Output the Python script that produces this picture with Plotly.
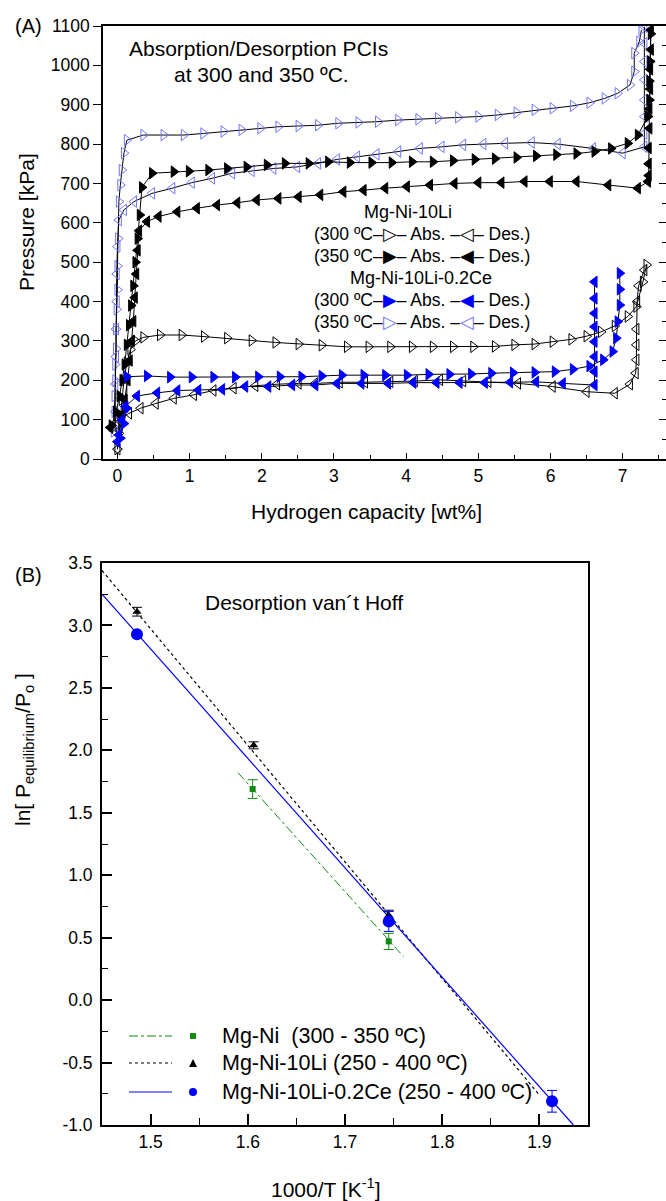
import plotly.graph_objects as go

W, H = 666, 1201
FONT = "Liberation Sans, Arial, sans-serif"

# ---------------- Panel A data (Hydrogen capacity [wt%], Pressure [kPa]) ----------------
li300_abs_x = [0.0, 0.02, 0.04, 0.06, 0.09, 0.13, 0.18, 0.25, 0.36, 0.59, 0.89, 1.2, 1.52, 1.86, 2.19,
               2.51, 2.83, 3.18, 3.48, 3.78, 4.08, 4.37, 4.65, 4.93, 5.23, 5.5, 5.78, 6.03, 6.29, 6.5,
               6.7, 6.89, 7.07, 7.19, 7.28, 7.33]
li300_abs_y = [25, 65, 110, 150, 200, 245, 278, 300, 309, 315, 315, 311, 307, 301, 296,
               292, 289, 285, 285, 285, 285, 285, 285, 285, 286, 290, 292, 298, 304, 312,
               323, 338, 362, 387, 450, 493]

li300_des_x = [7.3, 7.22, 7.2, 7.19, 7.19, 7.19, 7.18, 7.1, 6.89, 6.5, 6.03, 5.55, 5.14, 4.79, 4.47,
               4.12, 3.78, 3.43, 3.08, 2.74, 2.51, 2.21, 1.91, 1.61, 1.33, 1.06, 0.78, 0.53, 0.32,
               0.16, 0.02, 0.0]
li300_des_y = [480, 440, 400, 330, 290, 252, 218, 190, 167, 171, 184, 192, 196, 198, 201,
               198, 196, 195, 195, 192, 192, 190, 186, 180, 174, 163, 154, 141, 129,
               116, 99, 25]

li350_abs_x = [-0.08, -0.02, 0.03, 0.07, 0.1, 0.13, 0.16, 0.19, 0.22, 0.25, 0.28, 0.31, 0.34, 0.48,
               0.78, 0.99, 1.26, 1.52, 1.79, 2.07, 2.32, 2.65, 2.92, 3.22, 3.52, 3.8, 4.08, 4.37,
               4.65, 4.95, 5.23, 5.53, 5.8, 6.08, 6.36, 6.61, 6.84, 7.07, 7.21, 7.35, 7.37, 7.37,
               7.38, 7.39]
li350_abs_y = [85, 120, 160, 200, 240, 290, 340, 390, 440, 500, 560, 620, 690, 726,
               730, 731, 734, 738, 742, 747, 751, 751, 755, 753, 753, 753, 755, 755,
               758, 761, 763, 766, 770, 773, 776, 781, 789, 802, 823, 870, 912, 960,
               1010, 1080]

li350_des_x = [7.39, 7.39, 7.38, 7.38, 7.37, 7.37, 7.36, 7.36, 7.36, 7.35, 7.21, 6.8, 6.36, 5.99,
               5.64, 5.32, 5.0, 4.67, 4.33, 4.01, 3.71, 3.41, 3.13, 2.81, 2.51, 2.23, 1.93, 1.66,
               1.38, 1.1, 0.83, 0.57, 0.41, 0.3, 0.28, 0.26, 0.24, 0.22, 0.2, 0.17, 0.14, 0.1,
               0.05, -0.1]
li350_des_y = [1090, 1040, 990, 940, 890, 840, 790, 750, 720, 705, 688, 696, 705, 705,
               705, 702, 702, 700, 696, 692, 688, 683, 679, 671, 666, 662, 658, 651,
               645, 637, 628, 616, 603, 580, 530, 470, 410, 350, 300, 250, 200, 150,
               110, 80]

ce300_abs_x = [0.04, 0.09, 0.13, 0.13, 0.41, 0.73, 1.03, 1.33, 1.63, 1.95, 2.25, 2.55, 2.83, 3.11,
               3.41, 3.71, 4.01, 4.31, 4.6, 4.9, 5.18, 5.48, 5.78, 6.06, 6.31, 6.54, 6.73, 6.86,
               6.91, 6.93, 6.96, 6.96, 6.96]
ce300_abs_y = [53, 90, 129, 209, 211, 208, 208, 208, 208, 209, 209, 209, 211, 213,
               213, 213, 213, 215, 215, 216, 218, 219, 220, 222, 228, 236, 252, 273,
               307, 349, 391, 431, 472]

ce300_des_x = [6.61, 6.61, 6.61, 6.61, 6.61, 6.61, 6.61, 6.61, 6.17, 5.8, 5.44, 5.09, 4.74, 4.42,
               4.1, 3.75, 3.38, 3.04, 2.74, 2.42, 2.09, 1.77, 1.45, 1.12, 0.83, 0.55, 0.27, 0.11,
               0.06, 0.02, 0.0]
ce300_des_y = [450, 408, 370, 336, 298, 260, 222, 188, 192, 196, 195, 194, 194, 194,
               194, 192, 192, 192, 188, 188, 184, 184, 177, 175, 174, 168, 160, 133,
               99, 61, 44]

ce350_abs_x = [-0.05, -0.04, -0.04, -0.03, -0.03, -0.02, -0.02, -0.01, 0.0, 0.0, 0.01, 0.02, 0.04,
               0.06, 0.09, 0.13, 0.36, 0.64, 0.92, 1.19, 1.47, 1.72, 1.98, 2.23, 2.51, 2.78, 3.06,
               3.34, 3.61, 3.89, 4.17, 4.44, 4.72, 5.0, 5.27, 5.53, 5.78, 6.03, 6.31, 6.54, 6.75,
               6.93, 7.1, 7.16, 7.16, 7.23, 7.26]
ce350_abs_y = [70, 120, 160, 200, 240, 280, 330, 380, 430, 490, 560, 654, 696,
               734, 777, 810, 823, 823, 823, 827, 832, 836, 840, 844, 846, 848, 853,
               855, 857, 861, 863, 866, 868, 870, 874, 880, 887, 891, 897, 905, 916,
               929, 950, 984, 1031, 1060, 1090]

ce350_des_x = [7.3, 7.3, 7.3, 7.3, 7.3, 7.3, 7.3, 7.3, 7.0, 6.59, 6.1, 5.74, 5.37, 5.07, 4.79,
               4.49, 4.19, 3.89, 3.59, 3.32, 3.04, 2.78, 2.49, 2.16, 1.86, 1.59, 1.31, 1.03, 0.76,
               0.48, 0.23, 0.09, 0.02, 0.0, -0.01, -0.01, -0.02, -0.02, -0.03, -0.03, -0.03]
ce350_des_y = [1098, 1056, 1010, 963, 912, 870, 827, 793, 777, 789, 800, 804, 802, 800, 798,
               793, 789, 781, 774, 768, 761, 751, 742, 738, 732, 726, 713, 702, 688,
               675, 654, 633, 607, 540, 470, 400, 330, 260, 190, 120, 69]

# ---------------- Panel B data (1000/T, ln[Peq/Po]) ----------------
mgni_x = [1.605, 1.745]
mgni_y = [1.69, 0.47]
mgni_err = [0.075, 0.065]
mgni_fit_x = [1.59, 1.76]
mgni_fit_y = [1.82, 0.35]

li_x = [1.486, 1.606, 1.745]
li_y = [3.11, 2.04, 0.68]
li_err = [0.035, 0.028, 0.04]
li_fit_x = [1.45, 1.90]
li_fit_y = [3.44, -0.76]

ce_x = [1.486, 1.745, 1.913]
ce_y = [2.93, 0.63, -0.81]
ce_err = [0.02, 0.08, 0.087]
ce_fit_x = [1.45, 1.935]
ce_fit_y = [3.25, -1.0]

y2_tick_vals = [-1.0, -0.5, 0.0, 0.5, 1.0, 1.5, 2.0, 2.5, 3.0, 3.5]
y2_tick_text = ["-1.0", "-0.5", "0.0", "0.5", "1.0", "1.5", "2.0", "2.5", "3.0", "3.5"]

BLUE = "#0000ff"
LBLUE = "#7474ff"
GREEN = "#128a12"


def fx(px):
    return px / W


def fy(py):
    return 1 - py / H


fig = go.Figure()


def pci(x, y, symbol, color):
    fig.add_trace(go.Scatter(
        x=x, y=y, mode="lines+markers", xaxis="x", yaxis="y",
        line=dict(color="black", width=1),
        marker=dict(symbol=symbol, size=10, color=color, line=dict(color=color, width=1)),
        showlegend=False, hoverinfo="skip"))


pci(li300_abs_x, li300_abs_y, "triangle-right-open", "black")
pci(li300_des_x, li300_des_y, "triangle-left-open", "black")
pci(ce350_abs_x, ce350_abs_y, "triangle-right-open", LBLUE)
pci(ce350_des_x, ce350_des_y, "triangle-left-open", LBLUE)
pci(li350_abs_x, li350_abs_y, "triangle-right", "black")
pci(li350_des_x, li350_des_y, "triangle-left", "black")
pci(ce300_abs_x, ce300_abs_y, "triangle-right", BLUE)
pci(ce300_des_x, ce300_des_y, "triangle-left", BLUE)

# empty trace to materialise the right-hand tick axis of panel A
fig.add_trace(go.Scatter(x=[], y=[], xaxis="x", yaxis="y3", showlegend=False, hoverinfo="skip"))

# panel B fits
fig.add_trace(go.Scatter(x=mgni_fit_x, y=mgni_fit_y, mode="lines", xaxis="x2", yaxis="y2",
                         line=dict(color=GREEN, width=1, dash="dashdot"), showlegend=False))
fig.add_trace(go.Scatter(x=li_fit_x, y=li_fit_y, mode="lines", xaxis="x2", yaxis="y2",
                         line=dict(color="black", width=1.2, dash="dot"), showlegend=False))
fig.add_trace(go.Scatter(x=ce_fit_x, y=ce_fit_y, mode="lines", xaxis="x2", yaxis="y2",
                         line=dict(color=BLUE, width=1.2), showlegend=False))

# panel B points
fig.add_trace(go.Scatter(x=mgni_x, y=mgni_y, mode="markers", xaxis="x2", yaxis="y2",
                         marker=dict(symbol="square", size=6, color=GREEN),
                         error_y=dict(type="data", array=mgni_err, color=GREEN, thickness=1, width=5),
                         showlegend=False))
fig.add_trace(go.Scatter(x=li_x, y=li_y, mode="markers", xaxis="x2", yaxis="y2",
                         marker=dict(symbol="triangle-up", size=8, color="black"),
                         error_y=dict(type="data", array=li_err, color="black", thickness=1, width=5),
                         showlegend=False))
fig.add_trace(go.Scatter(x=ce_x, y=ce_y, mode="markers", xaxis="x2", yaxis="y2",
                         marker=dict(symbol="circle", size=12, color=BLUE),
                         error_y=dict(type="data", array=ce_err, color=BLUE, thickness=1, width=5),
                         showlegend=False))

tickfont = dict(family=FONT, size=17.5, color="black")

fig.update_layout(
    width=W, height=H,
    margin=dict(l=0, r=0, t=0, b=0),
    paper_bgcolor="white", plot_bgcolor="white",
    font=dict(family=FONT, color="black"),
    showlegend=False,
    xaxis=dict(domain=[fx(103), 1.0], range=[-0.2, 7.6], anchor="y",
               showline=True, linecolor="black", linewidth=1.5, mirror=True,
               ticks="inside", ticklen=6, tickwidth=1.2, tickcolor="black",
               tick0=0, dtick=1,
               minor=dict(ticks="inside", ticklen=4, dtick=0.5, tickcolor="black", tickwidth=1),
               showgrid=False, zeroline=False, tickfont=tickfont, automargin=False),
    yaxis=dict(domain=[fy(459), fy(26)], range=[0, 1100], anchor="x",
               showline=True, linecolor="black", linewidth=1.5,
               ticks="outside", ticklen=8, tickwidth=1.2, tickcolor="black",
               tick0=0, dtick=100,
               showgrid=False, zeroline=False, tickfont=tickfont, automargin=False),
    yaxis3=dict(overlaying="y", side="right", anchor="x", range=[0, 1100],
                showline=False, showticklabels=False,
                ticks="inside", ticklen=7, tickwidth=1.2, tickcolor="black",
                tick0=0, dtick=100,
                minor=dict(ticks="inside", ticklen=4, dtick=50, tickcolor="black", tickwidth=1),
                showgrid=False, zeroline=False),
    xaxis2=dict(domain=[fx(102), fx(588)], range=[1.45, 1.95], anchor="y2",
                showline=True, linecolor="black", linewidth=1.8, mirror=True,
                ticks="inside", ticklen=11, tickwidth=1.5, tickcolor="black",
                tick0=1.5, dtick=0.1, tickformat=".1f",
                minor=dict(ticks="inside", ticklen=7, dtick=0.05, tickcolor="black", tickwidth=1.2),
                showgrid=False, zeroline=False, tickfont=tickfont, automargin=False),
    yaxis2=dict(domain=[fy(1125), fy(563)], range=[-1.0, 3.5], anchor="x2",
                showline=True, linecolor="black", linewidth=1.8, mirror=True,
                ticks="inside", ticklen=10, tickwidth=1.5, tickcolor="black",
                tickvals=y2_tick_vals, ticktext=y2_tick_text,
                minor=dict(ticks="inside", ticklen=6, dtick=0.25, tickcolor="black", tickwidth=1.2),
                ticklabelstandoff=4,
                showgrid=False, zeroline=False, tickfont=tickfont, automargin=False),
)

ann = []


def text(px, py, s, size, xanchor="center", angle=0):
    ann.append(dict(x=fx(px), y=fy(py), xref="paper", yref="paper", text=s, showarrow=False,
                    xanchor=xanchor, yanchor="middle", textangle=angle,
                    font=dict(family=FONT, size=size, color="black")))


# Panel A texts
text(28, 26, "(A)", 20)
text(258, 48, "Absorption/Desorption PCIs", 21)
text(261, 75, "at 300 and 350 ºC.", 21)
text(27, 222, "Pressure [kPa]", 21)
ann[-1]["textangle"] = -90
text(366, 511, "Hydrogen capacity [wt%]", 21)

b = "<span style='color:%s'>%s</span>"
text(408, 212, "Mg-Ni-10Li", 18)
text(312, 234, "(300 ºC–" + b % ("black", "▷") + "– Abs. –" + b % ("black", "◁") + "– Des.)", 17.5, "left")
text(312, 256, "(350 ºC–" + b % ("black", "▶") + "– Abs. –" + b % ("black", "◀") + "– Des.)", 17.5, "left")
text(421, 278, "Mg-Ni-10Li-0.2Ce", 18)
text(312, 300, "(300 ºC–" + b % (BLUE, "▶") + "– Abs. –" + b % (BLUE, "◀") + "– Des.)", 17.5, "left")
text(312, 322, "(350 ºC–" + b % (LBLUE, "▷") + "– Abs. –" + b % (LBLUE, "◁") + "– Des.)", 17.5, "left")

# Panel B texts
text(28, 575, "(B)", 20)
text(203, 602, "Desorption van´t Hoff", 21, "left")
text(24, 750, "ln[ P<sub>equilibrium</sub>/P<sub>o</sub> ]", 21, angle=-90)
text(326, 1188, "1000/T [K<sup>-1</sup>]", 21)

leg_rows = [(1036, "Mg-Ni\u00a0 (300 - 350 ºC)"),
            (1063, "Mg-Ni-10Li (250 - 400 ºC)"),
            (1092, "Mg-Ni-10Li-0.2Ce (250 - 400 ºC)")]
for py, s in leg_rows:
    text(220, py, s, 21.5, "left")

fig.update_layout(annotations=ann)

shapes = []
# legend line samples
shapes.append(dict(type="line", xref="paper", yref="paper", x0=fx(129), x1=fx(172),
                   y0=fy(1036), y1=fy(1036), line=dict(color=GREEN, width=1, dash="dashdot")))
shapes.append(dict(type="line", xref="paper", yref="paper", x0=fx(129), x1=fx(172),
                   y0=fy(1063), y1=fy(1063), line=dict(color="black", width=1.2, dash="dot")))
shapes.append(dict(type="line", xref="paper", yref="paper", x0=fx(129), x1=fx(172),
                   y0=fy(1092), y1=fy(1092), line=dict(color=BLUE, width=1.2)))
# legend symbols
shapes.append(dict(type="rect", xref="paper", yref="paper", x0=fx(190), x1=fx(196),
                   y0=fy(1039), y1=fy(1033), fillcolor=GREEN, line=dict(width=0)))
shapes.append(dict(type="path", xref="paper", yref="paper",
                   path="M %f %f L %f %f L %f %f Z" % (fx(189), fy(1067), fx(197), fy(1067), fx(193), fy(1059)),
                   fillcolor="black", line=dict(width=0)))
shapes.append(dict(type="circle", xref="paper", yref="paper", x0=fx(189), x1=fx(197),
                   y0=fy(1096), y1=fy(1088), fillcolor=BLUE, line=dict(width=0)))
fig.update_layout(shapes=shapes)

fig.write_html("out.html")
